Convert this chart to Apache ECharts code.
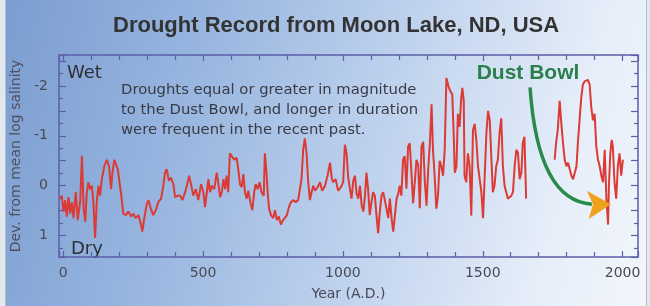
<!DOCTYPE html>
<html>
<head>
<meta charset="utf-8">
<script src="https://cdn.jsdelivr.net/npm/echarts@6/dist/echarts.min.js"></script>
<style>
  html, body { margin: 0; padding: 0; width: 650px; height: 306px; overflow: hidden; background: #e3e8ef; }
  #card {
    position: absolute; left: 5px; top: 0; width: 640px; height: 306px;
    background: linear-gradient(105deg, #7b9dd0 0%, #97b5df 28%, #c0d3ee 58%, #e6eef9 84%, #f3f6fb 100%);
    border-left: 1px solid #b4bfcd; border-right: 1px solid #b4bfcd;
  }
  #chart { position: absolute; left: 0; top: 0; width: 650px; height: 306px; }
</style>
</head>
<body>
<div id="card"></div>
<div id="chart"></div>
<script>
// years A.D. and deviation from mean log salinity (positive = dry)
var yearsMain = [
  -11,-5,1,7,13,19,25,31,37,45,52,61,67,73,79,84,90,96,102,108,114,120,126,132,138,147,156,164,171,176,
  183,189,195,203,209,215,224,233,243,251,259,269,278,283,290,299,305,313,322,331,340,350,358,364,370,378,385,394,400,409,418,426,
  436,442,450,457,465,474,483,493,501,507,513,519,525,531,540,549,555,561,567,573,579,584,590,596,602,612,620,626,632,638,
  644,650,656,662,669,676,683,688,695,702,709,717,721,726,731,736,743,751,757,764,771,778,786,793,800,807,814,822,831,840,
  847,852,858,864,870,876,882,888,894,900,
  910,918,926,936,945,954,960,965,974,983,993,1001,1007,1013,1019,1025,1031,1037,1043,1049,1055,1061,1067,1073,1079,1084,1090,1096,1102,1108,
  1114,1120,1126,1132,1138,1144,1150,1156,1162,1168,1174,1180,1186,1192,1198,1203,1209,1215,1221,1227,1233,1239,1245,1251,1257,1263,1269,1275,1281,1287,
  1293,1299,1305,1311,1317,1322,1328,1334,1340,
  1346,1352,1358,1364,1370,1376,1379,1384,1391,1396,1400,1406,1411,1417,1423,1427,1432,1435,1441,1447,1453,1459,1465,1471,1477,1483,1489,1495,1501,1507,
  1513,1519,1525,1530,1536,1542,1548,1554,1560,1566,1572,1578,1584,1590,1596,1602,1608,1614,1620,1626,1632,1638,1643,1649,1655
];
var devMain = [
  0.26,0.20,0.52,0.29,0.62,0.23,0.56,0.33,0.65,0.13,0.69,0.29,-0.60,0.46,0.72,0.16,-0.07,0.07,0.0,0.33,1.05,0.33,0.0,0.20,-0.13,-0.39,-0.52,-0.39,0.07,-0.26,
  -0.52,-0.56,-0.33,0.0,0.26,0.56,0.59,0.52,0.62,0.56,0.65,0.59,0.78,0.92,0.65,0.36,0.29,0.46,0.59,0.49,0.33,0.26,0.0,-0.26,-0.33,-0.10,-0.16,-0.03,0.23,0.20,0.20,0.29,
  0.13,0.0,-0.20,-0.03,0.20,0.07,0.29,-0.03,0.13,0.43,0.16,-0.13,0.13,0.0,0.07,-0.26,-0.03,0.23,0.13,-0.13,0.07,-0.20,0.13,-0.65,-0.59,-0.52,-0.56,-0.33,-0.03,0.03,
  -0.23,0.13,0.26,0.10,0.33,0.49,0.13,-0.03,0.07,-0.07,0.13,0.20,-0.65,-0.33,0.13,0.46,0.59,0.65,0.49,0.69,0.62,0.78,0.69,0.72,0.59,0.43,0.33,0.29,0.33,0.29,
  0.33,-0.13,-0.72,-0.95,-0.65,-0.07,0.29,0.13,0.0,0.10,
  0.03,-0.07,0.10,0.0,-0.20,-0.46,-0.16,-0.07,-0.13,0.10,0.03,-0.07,-0.82,-0.65,-0.16,0.06,0.26,-0.10,-0.20,0.16,0.26,0.0,0.39,0.52,0.20,-0.26,0.06,0.59,0.33,0.13,
  0.20,0.59,0.95,0.52,0.20,0.13,0.10,0.46,0.65,0.26,0.65,0.92,0.59,0.26,0.16,0.0,0.20,-0.52,-0.59,0.06,-0.78,-0.85,-0.26,0.35,-0.07,-0.52,-0.43,0.45,-0.78,-0.88,
  -0.07,0.40,-0.33,-0.85,-1.63,-0.72,-0.20,0.46,0.20,
  -0.50,-0.39,-0.20,-0.72,-2.16,-2.20,-1.96,-1.90,-1.83,-1.05,-0.26,-0.39,-1.44,-1.18,-1.76,-1.96,-1.70,-0.20,-0.07,-0.65,-0.39,0.60,-1.11,-1.24,-0.92,-0.39,-0.13,0.13,0.65,-0.20,
  -1.05,-1.50,-1.31,-0.65,0.13,0.0,-0.39,-0.52,-1.05,-1.35,-0.39,0.0,0.13,0.26,0.23,0.20,0.13,-0.39,-0.72,-0.65,-0.13,-0.26,-0.85,-0.98,0.26
];
// after the gap in the record
var yearsRecent = [
  1757,1762,1768,1775,1781,1787,1793,1799,1805,1811,1817,1823,1829,1835,1840,1846,1852,1858,1864,1870,
  1876,1882,1888,1894,1900,1906,1912,1918,1924,1930,1936,1942,1948,1951,1956,1961,1965,1971,1977,1983,1989,1995,2001
];
var devRecent = [
  -0.52,-0.85,-1.11,-1.70,-1.24,-0.85,-0.52,-0.39,-0.46,-0.33,-0.20,-0.13,-0.10,-0.39,-0.85,-1.31,-1.76,-2.03,-2.09,-2.06,
  -2.12,-2.03,-1.57,-1.31,-1.44,-0.78,-0.52,-0.39,-0.20,-0.07,-0.72,0.26,0.78,0.0,-0.65,-0.92,-0.78,-0.07,0.26,-0.39,-0.65,-0.20,-0.52
];
var xTickLabels = [0, 500, 1000, 1500, 2000];
var yTickLabels = [-2, -1, 0, 1];
var noteLines = [
  'Droughts equal or greater in magnitude',
  'to the Dust Bowl, and longer in duration',
  'were frequent in the recent past.'
];
// arrow from the "Dust Bowl" label, in data units [year, dev]
var arrowCurve = [[1669, -1.97], [1697, 0.31], [1890, 0.37]];
var arrowHead = [[1958, 0.37], [1872, 0.10], [1894, 0.37], [1879, 0.67]];

var seriesData = yearsMain.map(function (y, i) { return [y, devMain[i]]; })
  .concat([[1706, null]])
  .concat(yearsRecent.map(function (y, i) { return [y, devRecent[i]]; }));

var axisColor = '#5b5ea8';
var labelFont = 'DejaVu Sans';

function xAxisCfg(top) {
  return {
    type: 'value', min: -15, max: 2055, splitNumber: 4,
    position: top ? 'top' : 'bottom',
    name: top ? '' : 'Year (A.D.)',
    nameLocation: 'middle', nameGap: 30,
    nameTextStyle: { fontFamily: labelFont, fontSize: 14, color: '#4a4a55' },
    axisLine: { show: true, onZero: false, lineStyle: { color: axisColor, width: 1.5 } },
    axisTick: { show: true, inside: true, length: 6, lineStyle: { color: axisColor, width: 1.2 } },
    minorTick: { show: true, splitNumber: 5, length: 5, lineStyle: { color: axisColor, width: 1.2 } },
    axisLabel: {
      show: !top, margin: 9, fontFamily: labelFont, fontSize: 14, color: '#4a4a55',
      formatter: function (v) { return xTickLabels.indexOf(v) >= 0 ? String(v) : ''; }
    },
    splitLine: { show: false }
  };
}
function yAxisCfg(right) {
  return {
    type: 'value', inverse: true, min: -2.62, max: 1.43, splitNumber: 8,
    position: right ? 'right' : 'left',
    name: right ? '' : 'Dev. from mean log salinity',
    nameLocation: 'middle', nameGap: 24,
    nameTextStyle: { fontFamily: labelFont, fontSize: 14, color: '#50505c' },
    axisLine: { show: true, onZero: false, lineStyle: { color: axisColor, width: 1.5 } },
    axisTick: { show: true, inside: true, length: 7, lineStyle: { color: axisColor, width: 1.2 } },
    minorTick: { show: true, splitNumber: 2, length: 4, lineStyle: { color: axisColor, width: 1.2 } },
    axisLabel: {
      show: !right, margin: 11, fontFamily: labelFont, fontSize: 14, color: '#4a4a55',
      formatter: function (v) { return yTickLabels.indexOf(v) >= 0 ? String(v) : ''; }
    },
    splitLine: { show: false }
  };
}

var chart = echarts.init(document.getElementById('chart'));
chart.setOption({
  backgroundColor: 'transparent',
  animation: false,
  title: {
    text: 'Drought Record from Moon Lake, ND, USA',
    left: 108, top: 10,
    textStyle: { fontFamily: 'Liberation Sans', fontWeight: 'bold', fontSize: 22, color: '#333' }
  },
  grid: { left: 59, right: 12, top: 55, bottom: 44 },
  xAxis: [xAxisCfg(false), xAxisCfg(true)],
  yAxis: [yAxisCfg(false), yAxisCfg(true)],
  series: [{
    type: 'line',
    data: seriesData,
    showSymbol: false,
    connectNulls: false,
    lineStyle: { color: '#dc3a34', width: 2 },
    z: 3
  }]
});

// annotations
function px(p) { return chart.convertToPixel({ xAxisIndex: 0, yAxisIndex: 0 }, p); }
var c = arrowCurve.map(px);
var h = arrowHead.map(px);
var graphics = [
  { type: 'text', style: { x: 67, y: 73, text: 'Wet', font: '18px DejaVu Sans', fill: '#2f2f38', verticalAlign: 'middle' } },
  { type: 'text', style: { x: 71, y: 249, text: 'Dry', font: '18px DejaVu Sans', fill: '#2f2f38', verticalAlign: 'middle' } },
  { type: 'text', style: { x: 528, y: 73, text: 'Dust Bowl', font: 'bold 21px Liberation Sans', fill: '#2a7f4c', align: 'center', verticalAlign: 'middle' } },
  { type: 'bezierCurve', z: 10, shape: { x1: c[0][0], y1: c[0][1], cpx1: c[1][0], cpy1: c[1][1], x2: c[2][0], y2: c[2][1] },
    style: { stroke: '#2a8a4c', lineWidth: 3.5, fill: null } },
  { type: 'polygon', z: 11, shape: { points: h }, style: { fill: '#f0a21e' } }
];
noteLines.forEach(function (t, i) {
  graphics.push({ type: 'text', style: { x: 121, y: 90 + i * 20, text: t, font: '14.8px DejaVu Sans', fill: '#3a3a44', verticalAlign: 'middle' } });
});
chart.setOption({ graphic: graphics });
</script>
</body>
</html>
